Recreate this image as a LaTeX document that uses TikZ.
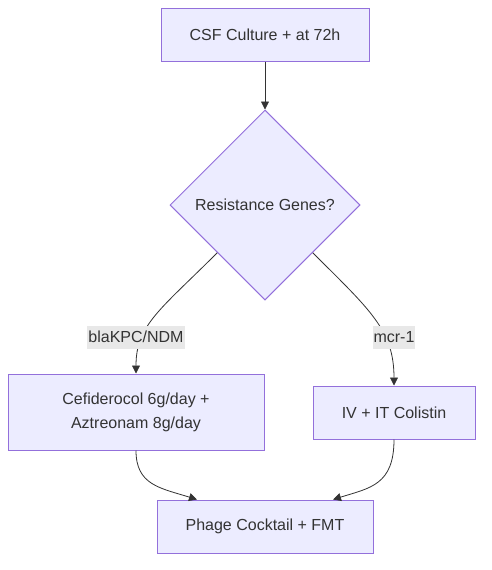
\documentclass[tikz,border=0pt]{standalone}
\usepackage{fontspec}
\setmainfont{Liberation Sans}
\usetikzlibrary{shapes.geometric,arrows.meta}
\definecolor{nodefill}{HTML}{ECECFF}
\definecolor{nodeline}{HTML}{9370DB}
\definecolor{txt}{HTML}{333333}
\definecolor{lblbg}{HTML}{E8E8E8}
\tikzset{
  box/.style={draw=nodeline, fill=nodefill, line width=1pt, text=txt, inner sep=0pt, align=center, font=\fontsize{16}{24}\selectfont},
  dia/.style={box, diamond, minimum width=190pt, minimum height=190pt},
  edge/.style={draw=txt, line width=0.8pt, -{Triangle[length=8pt,width=8pt]}},
  lbl/.style={fill=lblbg, text=txt, inner xsep=1pt, inner ysep=0pt, minimum height=23pt, font=\fontsize{16}{19}\selectfont}
}
\begin{document}
\begin{tikzpicture}[x=1pt,y=-1pt]
\useasboundingbox (0,0) rectangle (491,570);
\node[box, minimum width=208pt, minimum height=53pt] (a) at (265,34.5) {CSF Culture + at 72h};
\node[dia] (d) at (265,205) {Resistance Genes?};
\node[box, minimum width=256pt, minimum height=76pt] (l) at (136,412) {Cefiderocol 6g/day +\\Aztreonam 8g/day};
\node[box, minimum width=162pt, minimum height=53pt] (r) at (394,412.5) {IV + IT Colistin};
\node[box, minimum width=216pt, minimum height=53pt] (b) at (265,526.5) {Phage Cocktail + FMT};
\draw[edge] (a.south) -- (d.north);
\draw[edge] (d.south west) .. controls (160,310) and (136,325) .. (l.north);
\draw[edge] (d.south east) .. controls (370,310) and (394,330) .. (r.north);
\draw[edge] (l.south) .. controls (136,485) and (160,488) .. ([xshift=-68pt]b.north);
\draw[edge] (r.south) .. controls (394,485) and (370,488) .. ([xshift=68pt]b.north);
\node[lbl] (la) at (136,337) {blaKPC/NDM};
\node[lbl] (lb) at (394,337) {mcr-1};
\end{tikzpicture}
\end{document}
